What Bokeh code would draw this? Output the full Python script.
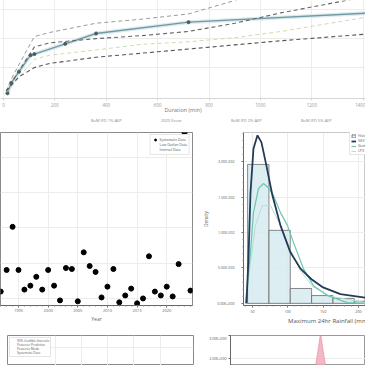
from bokeh.plotting import figure
from bokeh.layouts import column, row
from bokeh.models import (Range1d, FixedTicker, Legend, LegendItem,
                          ColumnDataSource)
from bokeh.embed import file_html
from bokeh.resources import INLINE

FONT = "Open Sans"

# ---------------- Top panel: depth-duration curves ----------------
dur_event = [15, 30, 60, 105, 120, 240, 360, 720, 1440]
depth_event = [5.3, 15.8, 27.4, 44.2, 45.3, 55.8, 66.3, 77.9, 87.4]
dur_ifd = [10, 30, 60, 120, 180, 360, 540, 720, 900, 1080, 1440]
ifd_a = [7.4, 20.0, 34.7, 63.2, 67.4, 76.8, 81.0, 86.3, 100.0, 118.9, 152.6]
ifd_b = [7.4, 15.8, 28.4, 52.6, 56.8, 61.1, 64.2, 68.4, 76.8, 87.4, 105.3]
ifd_c = [6.3, 11.6, 22.1, 40.0, 44.2, 49.5, 55.3, 57.9, 62.1, 68.4, 84.2]
ifd_d = [7.4, 13.7, 22.1, 31.6, 35.8, 42.1, 46.3, 50.5, 54.7, 58.9, 66.3]
top_ticks = [0, 200, 400, 600, 800, 1000, 1200, 1400]
top_labels = ["BoM IFD 1% AEP", "2023 Event", "BoM IFD 2% AEP",
              "BoM IFD 5% AEP", "BoM IFD 10% AEP"]

# ---------------- Middle left: annual maxima ----------------
years = list(range(1992, 2025))
annual_max = [59.7, 90.3, 151.4, 90.3, 62.5, 68.1, 80.6, 62.5, 90.3, 68.1,
              47.2, 93.1, 91.7, 45.9, 115.3, 95.9, 87.5, 51.4, 66.7, 91.7,
              44.5, 54.2, 63.9, 43.1, 50.0, 109.7, 59.7, 54.2, 66.7, 52.8,
              98.6, 284.7, 61.1]
year_ticks = [1995, 2000, 2005, 2010, 2015, 2020]

# ---------------- Middle right: histogram + fitted densities ----------------
hist_edges = [43.1, 73.3, 103.5, 133.7, 163.9, 194.1, 224.3]
hist_density = [0.0196, 0.0103, 0.0021, 0.0011, 0.0007, 0.0003]
dark_x = [41.5, 44.3, 47.2, 51.4, 57.1, 62.7, 69.8, 78.3, 89.6, 103.7, 117.9,
          133.5, 149.0, 174.5, 209.8]
dark_y = [0.0, 0.0063, 0.0156, 0.0218, 0.0237, 0.0227, 0.0194, 0.0152, 0.0110,
          0.0072, 0.0049, 0.0034, 0.0023, 0.0013, 0.0008]
teal_x = [40.1, 47.2, 51.4, 58.5, 65.6, 72.6, 79.7, 89.6, 99.5, 108.0, 122.1,
          136.3, 156.1, 184.4, 209.8]
teal_y = [0.0, 0.0072, 0.0128, 0.0162, 0.0169, 0.0163, 0.0152, 0.0128, 0.0110,
          0.0086, 0.0049, 0.0025, 0.0011, 0.0001, 0.0]
pale_x = [40.1, 47.2, 54.2, 64.1, 75.5, 89.6, 103.7, 117.9, 134.9, 160.3, 209.8]
pale_y = [0.0, 0.0058, 0.0110, 0.0138, 0.0138, 0.0110, 0.0075, 0.0046, 0.0024,
          0.0010, 0.0001]
dens_ticks = [0, 0.005, 0.01, 0.015, 0.02]
dens_labels = ["0.00E+000", "5.00E-003", "1.00E-002", "1.50E-002", "2.00E-002"]
rain_ticks = [50, 100, 150, 200]

# ---------------- Bottom right: posterior spike ----------------
post_x = [0.55, 0.60, 0.63, 0.648, 0.667, 0.686, 0.704, 0.74, 0.80]
post_y = [0.2, 0.8, 1.7, 2.35, 3.1, 2.35, 1.7, 0.8, 0.2]

GRID = "#ececec"
NBSP = "\u00a0"


def base(**kw):
    p = figure(output_backend="svg", toolbar_location=None, **kw)
    p.background_fill_color = "white"
    p.border_fill_color = "white"
    return p


# ===== Top figure =====
p1 = base(width=365, height=116, x_range=Range1d(-12, 1409),
          y_range=Range1d(0, 100), min_border_left=0, min_border_right=0,
          min_border_top=0, min_border_bottom=0)
p1.yaxis.visible = False
p1.outline_line_color = None
p1.xaxis.ticker = FixedTicker(ticks=top_ticks)
p1.xgrid.ticker = FixedTicker(ticks=top_ticks)
p1.ygrid.ticker = FixedTicker(ticks=[31.6, 61.0, 90.5])
p1.xgrid.grid_line_color = GRID
p1.ygrid.grid_line_color = GRID
ax = p1.xaxis[0]
ax.axis_line_color = "#d6d6d6"
ax.major_tick_line_color = "#d6d6d6"
ax.major_tick_out = 2
ax.major_tick_in = 0
ax.minor_tick_line_color = None
ax.major_label_text_font = FONT
ax.major_label_text_font_size = "4.5px"
ax.major_label_text_color = "#999999"
ax.major_label_standoff = 2
ax.axis_label = "Duration (min)"
ax.axis_label_text_font = FONT
ax.axis_label_text_font_size = "5.5px"
ax.axis_label_text_font_style = "normal"
ax.axis_label_text_color = "#777777"
ax.axis_label_standoff = -4

STY_A = dict(line_color="#9a9a9a", line_dash="4 3", line_width=1)
STY_E = dict(line_color="#6f9aa4", line_width=1.4)
STY_EM = dict(size=3, color="#4a5a60")
STY_B = dict(line_color="#666666", line_dash="4 3", line_width=1.1)
STY_C = dict(line_color="#cddcae", line_dash="4 3", line_width=1)
STY_D = dict(line_color="#555555", line_dash="4 3", line_width=1.1)

p1.line(dur_ifd, ifd_a, **STY_A)
p1.line(dur_event, depth_event, line_color="#c9dde2", line_width=4, line_alpha=0.6)
p1.line(dur_event, depth_event, **STY_E)
p1.scatter(dur_event, depth_event, **STY_EM)
p1.line(dur_ifd, ifd_b, **STY_B)
p1.line(dur_ifd, ifd_c, **STY_C)
p1.line(dur_ifd, ifd_d, **STY_D)

# legend strip under the top chart
p1b = base(width=365, height=9, x_range=Range1d(0, 1), y_range=Range1d(0, 1),
           min_border_left=0, min_border_right=0, min_border_top=0,
           min_border_bottom=0)
p1b.xaxis.visible = False
p1b.yaxis.visible = False
p1b.xgrid.visible = False
p1b.ygrid.visible = False
p1b.outline_line_color = None
eb = ColumnDataSource(data=dict(x=[], y=[]))
la = p1b.line("x", "y", source=eb, **STY_A)
le = p1b.line("x", "y", source=eb, **STY_E)
lem = p1b.scatter("x", "y", source=eb, **STY_EM)
lb = p1b.line("x", "y", source=eb, **STY_B)
lc = p1b.line("x", "y", source=eb, **STY_C)
ld = p1b.line("x", "y", source=eb, **STY_D)
leg1 = Legend(items=[LegendItem(label=top_labels[0], renderers=[la]),
                     LegendItem(label=top_labels[1], renderers=[le, lem]),
                     LegendItem(label=top_labels[2], renderers=[lb]),
                     LegendItem(label=top_labels[3], renderers=[lc]),
                     LegendItem(label=top_labels[4], renderers=[ld])],
              orientation="horizontal", location=(72, 2),
              label_text_font=FONT, label_text_font_size="4px",
              label_text_color="#888888", glyph_width=16, glyph_height=5,
              label_standoff=3, label_width=40, label_height=5, spacing=11,
              padding=1, margin=0, border_line_color=None,
              background_fill_alpha=0)
p1b.add_layout(leg1, "center")

# ===== Middle left: scatter =====
x0 = 1995 - 18 / 5.93
p2 = base(width=200, height=210, x_range=Range1d(x0, x0 + 192 / 5.93),
          y_range=Range1d(40, 285), min_border_left=0, min_border_right=8,
          min_border_top=7, min_border_bottom=27)
p2.yaxis.visible = False
p2.outline_line_color = "#8a8a8a"
p2.xaxis.ticker = FixedTicker(ticks=year_ticks, minor_ticks=years)
p2.xgrid.ticker = FixedTicker(ticks=year_ticks)
p2.ygrid.ticker = FixedTicker(ticks=[50, 100, 150, 200, 250])
p2.xgrid.grid_line_color = GRID
p2.ygrid.grid_line_color = GRID
ax = p2.xaxis[0]
ax.axis_line_color = "#666666"
ax.major_tick_line_color = "#666666"
ax.minor_tick_line_color = "#888888"
ax.major_tick_out = 2
ax.major_tick_in = 0
ax.minor_tick_out = 1
ax.minor_tick_in = 0
ax.major_label_text_font = FONT
ax.major_label_text_font_size = "4px"
ax.major_label_text_color = "#666666"
ax.major_label_standoff = 1
ax.axis_label = "Year"
ax.axis_label_text_font = FONT
ax.axis_label_text_font_size = "5px"
ax.axis_label_text_font_style = "normal"
ax.axis_label_text_color = "#666666"
ax.axis_label_standoff = 1
rs = p2.scatter(years, annual_max, size=5, color="black")
empty = ColumnDataSource(data=dict(x=[], y=[]))
rlo = p2.scatter("x", "y", source=empty, size=4, fill_color="white", line_color="#999999")
rint = p2.scatter("x", "y", source=empty, size=4, marker="square", fill_color="#888888", line_color="#666666")
leg2 = Legend(items=[LegendItem(label="Systematic Data", renderers=[rs]),
                     LegendItem(label="Low Outlier Data", renderers=[rlo]),
                     LegendItem(label="Interval Data", renderers=[rint])],
              location="top_right", label_text_font=FONT,
              label_text_font_size="3.5px", label_text_color="#555555",
              glyph_width=5, glyph_height=5, label_standoff=2, spacing=0,
              padding=2, margin=2, label_height=5,
              border_line_color="#cccccc", border_line_width=0.5,
              background_fill_color="white", background_fill_alpha=1)
p2.add_layout(leg2, "center")

# ===== Middle right: histogram =====
p3 = base(width=165, height=210, x_range=Range1d(37.3, 210),
          y_range=Range1d(-0.0003, 0.0241), min_border_left=43,
          min_border_right=0, min_border_top=7, min_border_bottom=30)
p3.outline_line_color = "#c8c8c8"
p3.xaxis.ticker = FixedTicker(ticks=rain_ticks, minor_ticks=list(range(40, 215, 10)))
p3.yaxis.ticker = FixedTicker(ticks=dens_ticks,
                              minor_ticks=[i * 0.001 for i in range(0, 25)])
p3.yaxis.major_label_overrides = {t: l for t, l in zip(dens_ticks, dens_labels)}
p3.xgrid.grid_line_color = GRID
p3.ygrid.grid_line_color = GRID
for ax in (p3.xaxis[0], p3.yaxis[0]):
    ax.axis_line_color = "#666666"
    ax.major_tick_line_color = "#666666"
    ax.minor_tick_line_color = "#888888"
    ax.major_tick_out = 2
    ax.major_tick_in = 0
    ax.minor_tick_out = 1
    ax.minor_tick_in = 0
    ax.major_label_text_font = FONT
    ax.major_label_text_font_size = "3.6px"
    ax.major_label_text_color = "#555555"
    ax.axis_label_text_font = FONT
    ax.axis_label_text_font_style = "normal"
    ax.axis_label_text_color = "#555555"
p3.yaxis.major_label_standoff = 7
p3.yaxis.axis_label = "Density"
p3.yaxis.axis_label_text_font_size = "4.5px"
p3.yaxis.axis_label_standoff = 5
p3.xaxis.major_label_standoff = 2
p3.xaxis.axis_label = NBSP * 31 + "Maximum 24hr Rainfall (mm)"
p3.xaxis.axis_label_text_font_size = "6px"
p3.xaxis.axis_label_standoff = 1
rh = p3.quad(left=hist_edges[:-1], right=hist_edges[1:], top=hist_density,
             bottom=0, fill_color="#d6ebf0", fill_alpha=0.85,
             line_color="#6a6a6a", line_width=0.8)
rp = p3.line(pale_x, pale_y, line_color="#b4e0cc", line_width=1)
rt = p3.line(teal_x, teal_y, line_color="#6cc6b2", line_width=1.2)
rk = p3.line(dark_x, dark_y, line_color="#233a58", line_width=1.8)
leg3 = Legend(items=[LegendItem(label="Histogram", renderers=[rh]),
                     LegendItem(label="GEV", renderers=[rk]),
                     LegendItem(label="Gumbel", renderers=[rt]),
                     LegendItem(label="LP3", renderers=[rp])],
              location=(106, 150), label_text_font=FONT,
              label_text_font_size="3.5px", label_text_color="#555555",
              glyph_width=5, glyph_height=4, label_standoff=2, spacing=0,
              padding=1, margin=0, label_height=4,
              border_line_color="#cccccc", border_line_width=0.5,
              background_fill_color="white", background_fill_alpha=1)
p3.add_layout(leg3, "center")

# ===== Bottom left =====
p4 = base(width=200, height=30, x_range=Range1d(0, 1), y_range=Range1d(0, 1),
          min_border_left=7, min_border_right=7, min_border_top=0,
          min_border_bottom=0)
p4.xaxis.visible = False
p4.yaxis.visible = False
p4.outline_line_color = "#8a8a8a"
p4.xgrid.ticker = FixedTicker(ticks=[0.26, 0.4, 0.54, 0.68, 0.82])
p4.ygrid.ticker = FixedTicker(ticks=[0.6])
p4.xgrid.grid_line_color = GRID
p4.ygrid.grid_line_color = GRID
e4 = ColumnDataSource(data=dict(x=[], y=[]))
r41 = p4.scatter("x", "y", source=e4, marker="square", size=4,
                 fill_color="#eeeeee", line_color="#aaaaaa")
r42 = p4.line("x", "y", source=e4, line_color="#bbbbbb", line_width=1)
r43 = p4.line("x", "y", source=e4, line_color="#999999", line_width=1)
r44 = p4.scatter("x", "y", source=e4, size=3, color="black")
leg4 = Legend(items=[LegendItem(label="90% Credible Intervals", renderers=[r41]),
                     LegendItem(label="Posterior Predictive", renderers=[r42]),
                     LegendItem(label="Posterior Mode", renderers=[r43]),
                     LegendItem(label="Systematic Data", renderers=[r44])],
              location="top_left", label_text_font=FONT,
              label_text_font_size="3.1px", label_text_color="#555555",
              glyph_width=4, glyph_height=4, label_standoff=2, spacing=0,
              padding=1, margin=2, label_height=4,
              border_line_color="#cccccc", border_line_width=0.5,
              background_fill_color="white", background_fill_alpha=1)
p4.add_layout(leg4, "center")

# ===== Bottom right =====
p5 = base(width=165, height=30, x_range=Range1d(0, 1), y_range=Range1d(1.7, 3.0),
          min_border_left=30, min_border_right=0, min_border_top=0,
          min_border_bottom=0)
p5.xaxis.visible = False
p5.outline_line_color = "#999999"
p5.yaxis.ticker = FixedTicker(ticks=[2.0, 3.0])
p5.yaxis.major_label_overrides = {2.0: "2.00E+000", 3.0: "3.00E+000"}
ax = p5.yaxis[0]
ax.axis_line_color = "#666666"
ax.major_tick_line_color = "#666666"
ax.minor_tick_line_color = None
ax.major_tick_out = 2
ax.major_tick_in = 0
ax.major_label_text_font = FONT
ax.major_label_text_font_size = "3.6px"
ax.major_label_text_color = "#555555"
ax.major_label_standoff = 2
p5.xgrid.grid_line_color = None
p5.ygrid.grid_line_color = GRID
p5.varea(x=post_x, y1=[1.7] * len(post_x), y2=post_y, fill_color="#f0a6b8",
         fill_alpha=0.8)
p5.line(post_x, post_y, line_color="#e3879e", line_width=0.6)

layout = column(p1, p1b, row(p2, p3), row(p4, p5))
open("out.html", "w").write(file_html(layout, INLINE))
